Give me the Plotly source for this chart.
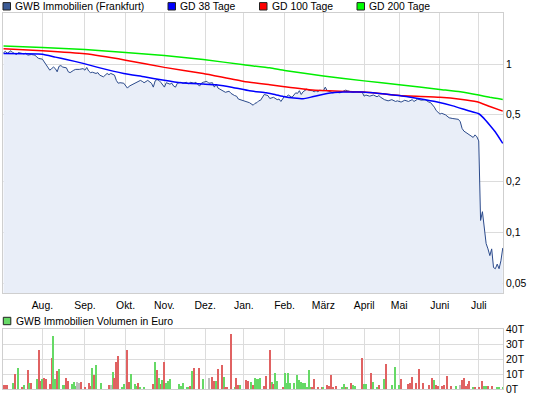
import plotly.graph_objects as go

# ---------------- data ----------------
price_dates = [
    "2011-07-01", "2011-07-04", "2011-07-05", "2011-07-06", "2011-07-07", "2011-07-08", "2011-07-12",
    "2011-07-13", "2011-07-14", "2011-07-18", "2011-07-19", "2011-07-20", "2011-07-22", "2011-07-26",
    "2011-07-27", "2011-07-28", "2011-08-01", "2011-08-02", "2011-08-03", "2011-08-05", "2011-08-08",
    "2011-08-09", "2011-08-10", "2011-08-11", "2011-08-12", "2011-08-15", "2011-08-16", "2011-08-18",
    "2011-08-19", "2011-08-22", "2011-08-24", "2011-08-25", "2011-08-29", "2011-08-31", "2011-09-01",
    "2011-09-02", "2011-09-05", "2011-09-06", "2011-09-07", "2011-09-09", "2011-09-12", "2011-09-13",
    "2011-09-15", "2011-09-16", "2011-09-19", "2011-09-20", "2011-09-21", "2011-09-23", "2011-09-26",
    "2011-09-27", "2011-09-28", "2011-09-30", "2011-10-03", "2011-10-04", "2011-10-05", "2011-10-07",
    "2011-10-10", "2011-10-11", "2011-10-13", "2011-10-14", "2011-10-17", "2011-10-19", "2011-10-20",
    "2011-10-21", "2011-10-24", "2011-10-25", "2011-10-26", "2011-10-27", "2011-10-28", "2011-10-31",
    "2011-11-01", "2011-11-02", "2011-11-04", "2011-11-07", "2011-11-08", "2011-11-09", "2011-11-10",
    "2011-11-14", "2011-11-15", "2011-11-17", "2011-11-18", "2011-11-21", "2011-11-23", "2011-11-24",
    "2011-11-28", "2011-11-29", "2011-11-30", "2011-12-02", "2011-12-05", "2011-12-07", "2011-12-08",
    "2011-12-09", "2011-12-12", "2011-12-13", "2011-12-15", "2011-12-16", "2011-12-20", "2011-12-21",
    "2011-12-23", "2011-12-27", "2011-12-28", "2011-12-30", "2012-01-02", "2012-01-04", "2012-01-05",
    "2012-01-09", "2012-01-10", "2012-01-11", "2012-01-12", "2012-01-13", "2012-01-16", "2012-01-17",
    "2012-01-18", "2012-01-19", "2012-01-20", "2012-01-24", "2012-01-26", "2012-01-27", "2012-01-30",
    "2012-02-01", "2012-02-02", "2012-02-03", "2012-02-07", "2012-02-08", "2012-02-09", "2012-02-10",
    "2012-02-13", "2012-02-14", "2012-02-15", "2012-02-17", "2012-02-20", "2012-02-22", "2012-02-23",
    "2012-02-24", "2012-02-27", "2012-02-28", "2012-03-01", "2012-03-02", "2012-03-05", "2012-03-07",
    "2012-03-08", "2012-03-12", "2012-03-14", "2012-03-15", "2012-03-19", "2012-03-20", "2012-03-22",
    "2012-03-23", "2012-03-27", "2012-03-29", "2012-03-30", "2012-04-02", "2012-04-03", "2012-04-05",
    "2012-04-11", "2012-04-13", "2012-04-16", "2012-04-17", "2012-04-19", "2012-04-23", "2012-04-25",
    "2012-04-27", "2012-04-30", "2012-05-03", "2012-05-07", "2012-05-09", "2012-05-11", "2012-05-14",
    "2012-05-16", "2012-05-18", "2012-05-22", "2012-05-24", "2012-05-25", "2012-05-29", "2012-05-30",
    "2012-06-01", "2012-06-04", "2012-06-06", "2012-06-08", "2012-06-12", "2012-06-15", "2012-06-18",
    "2012-06-19", "2012-06-20", "2012-06-22", "2012-06-26", "2012-06-27", "2012-06-28", "2012-06-29",
    "2012-07-02", "2012-07-03", "2012-07-04", "2012-07-05", "2012-07-06", "2012-07-09", "2012-07-10",
    "2012-07-11", "2012-07-12", "2012-07-13", "2012-07-16", "2012-07-17", "2012-07-18", "2012-07-19",
]
price_values = [
    1.17, 1.19, 1.16, 1.18, 1.20, 1.17, 1.14,
    1.17, 1.16, 1.15, 1.16, 1.13, 1.14, 1.13,
    1.10, 1.08, 1.07, 1.03, 0.99, 0.92, 0.94,
    0.96, 0.94, 0.90, 0.97, 0.98, 0.96, 0.95,
    0.90, 0.89, 0.92, 0.93, 0.93, 0.94, 0.92,
    0.955, 0.91, 0.89, 0.895, 0.88, 0.89, 0.86,
    0.84, 0.865, 0.88, 0.865, 0.88, 0.86, 0.80,
    0.77, 0.775, 0.77, 0.75, 0.72, 0.74, 0.76,
    0.77, 0.78, 0.80, 0.79, 0.775, 0.80, 0.78,
    0.77, 0.73, 0.795, 0.81, 0.80, 0.78, 0.75,
    0.73, 0.775, 0.76, 0.77, 0.74, 0.73, 0.77,
    0.78, 0.77, 0.78, 0.76, 0.78, 0.77, 0.78,
    0.74, 0.77, 0.78, 0.79, 0.77, 0.775, 0.73,
    0.76, 0.72, 0.71, 0.695, 0.68, 0.69, 0.67,
    0.65, 0.645, 0.62, 0.61, 0.60, 0.595, 0.59,
    0.57, 0.585, 0.59, 0.605, 0.61, 0.64, 0.66,
    0.655, 0.65, 0.625, 0.635, 0.615, 0.62, 0.60,
    0.645, 0.64, 0.655, 0.635, 0.655, 0.675, 0.67,
    0.695, 0.66, 0.685, 0.71, 0.70, 0.695, 0.685,
    0.695, 0.685, 0.70, 0.695, 0.73, 0.695, 0.685,
    0.675, 0.68, 0.675, 0.685, 0.70, 0.695, 0.685,
    0.68, 0.685, 0.68, 0.68, 0.645, 0.655, 0.645,
    0.655, 0.64, 0.65, 0.635, 0.615, 0.605, 0.615,
    0.60, 0.605, 0.595, 0.61, 0.60, 0.615, 0.60,
    0.62, 0.61, 0.615, 0.595, 0.59, 0.555, 0.53,
    0.505, 0.51, 0.50, 0.48, 0.475, 0.47, 0.455,
    0.415, 0.40, 0.385, 0.373, 0.367, 0.38, 0.37,
    0.35, 0.118, 0.133, 0.109, 0.086, 0.080, 0.073,
    0.080, 0.062, 0.061, 0.065, 0.061, 0.068, 0.081,
]

ma38_dates = [
    "2011-07-01", "2011-08-01", "2011-08-10", "2011-08-18", "2011-08-31", "2011-09-12", "2011-09-30",
    "2011-10-17", "2011-10-31", "2011-11-14", "2011-11-30", "2011-12-09", "2011-12-22", "2012-01-05",
    "2012-01-18", "2012-01-24", "2012-02-01", "2012-02-08", "2012-02-15", "2012-02-22", "2012-03-05",
    "2012-03-16", "2012-03-30", "2012-04-16", "2012-05-02", "2012-05-17", "2012-05-30", "2012-06-12",
    "2012-06-22", "2012-07-02", "2012-07-04", "2012-07-10", "2012-07-13", "2012-07-19",
]
ma38_values = [
    1.155, 1.145, 1.10, 1.066, 1.01, 0.956, 0.88,
    0.841, 0.804, 0.774, 0.761, 0.753, 0.727, 0.694,
    0.675, 0.663, 0.639, 0.628, 0.622, 0.639, 0.67,
    0.682, 0.682, 0.67, 0.651, 0.622, 0.597, 0.565,
    0.53, 0.507, 0.486, 0.434, 0.395, 0.338,
]

ma100_dates = [
    "2011-07-01", "2011-08-01", "2011-09-01", "2011-10-03", "2011-11-01", "2011-11-30", "2012-01-02",
    "2012-01-20", "2012-02-01", "2012-02-22", "2012-04-02", "2012-05-02", "2012-06-01", "2012-06-18",
    "2012-06-29", "2012-07-10", "2012-07-19",
]
ma100_values = [
    1.235, 1.20, 1.15, 1.055, 0.956, 0.88, 0.789,
    0.753, 0.733, 0.701, 0.682, 0.651, 0.636, 0.619,
    0.597, 0.56, 0.526,
]

ma200_dates = [
    "2011-07-01", "2011-08-01", "2011-09-01", "2011-10-03", "2011-11-01", "2011-11-30", "2012-01-02",
    "2012-01-20", "2012-02-01", "2012-03-01", "2012-04-02", "2012-05-02", "2012-06-01", "2012-06-18",
    "2012-07-02", "2012-07-10", "2012-07-19",
]
ma200_values = [
    1.28, 1.255, 1.22, 1.17, 1.125, 1.065, 0.99,
    0.95, 0.915, 0.85, 0.795, 0.755, 0.707, 0.685,
    0.655, 0.635, 0.617,
]

vol_dates = [
    "2011-07-01", "2011-07-04", "2011-07-05", "2011-07-08", "2011-07-11", "2011-07-13", "2011-07-15",
    "2011-07-18", "2011-07-20", "2011-07-21", "2011-07-22", "2011-07-27", "2011-07-28", "2011-07-29",
    "2011-08-01", "2011-08-02", "2011-08-03", "2011-08-05", "2011-08-08", "2011-08-09", "2011-08-10",
    "2011-08-11", "2011-08-12", "2011-08-16", "2011-08-17", "2011-08-18", "2011-08-19", "2011-08-23",
    "2011-08-24", "2011-08-25", "2011-08-26", "2011-08-29", "2011-08-30", "2011-09-01", "2011-09-05",
    "2011-09-06", "2011-09-07", "2011-09-08", "2011-09-09", "2011-09-14", "2011-09-20", "2011-09-21",
    "2011-09-22", "2011-09-23", "2011-09-26", "2011-09-27", "2011-09-29", "2011-09-30", "2011-10-04",
    "2011-10-05", "2011-10-06", "2011-10-10", "2011-10-11", "2011-10-12", "2011-10-13", "2011-10-17",
    "2011-10-24", "2011-10-25", "2011-10-26", "2011-10-27", "2011-10-28", "2011-10-31", "2011-11-01",
    "2011-11-02", "2011-11-03", "2011-11-04", "2011-11-11", "2011-11-14", "2011-11-15", "2011-11-17",
    "2011-11-18", "2011-11-21", "2011-11-22", "2011-11-23", "2011-11-28", "2011-11-30", "2011-12-05",
    "2011-12-07", "2011-12-08", "2011-12-09", "2011-12-12", "2011-12-14", "2011-12-15", "2011-12-16",
    "2011-12-19", "2011-12-21", "2011-12-23", "2011-12-27", "2011-12-28", "2011-12-29", "2012-01-03",
    "2012-01-04", "2012-01-06", "2012-01-09", "2012-01-10", "2012-01-11", "2012-01-12", "2012-01-13",
    "2012-01-17", "2012-01-18", "2012-01-20", "2012-01-23", "2012-01-24", "2012-01-25", "2012-01-26",
    "2012-01-31", "2012-02-01", "2012-02-02", "2012-02-03", "2012-02-06", "2012-02-08", "2012-02-10",
    "2012-02-13", "2012-02-14", "2012-02-15", "2012-02-16", "2012-02-17", "2012-02-20", "2012-02-21",
    "2012-02-22", "2012-02-23", "2012-02-27", "2012-02-29", "2012-03-01", "2012-03-05", "2012-03-06",
    "2012-03-07", "2012-03-08", "2012-03-12", "2012-03-15", "2012-03-16", "2012-03-19", "2012-03-20",
    "2012-03-22", "2012-03-23", "2012-03-26", "2012-03-30", "2012-04-02", "2012-04-03", "2012-04-10",
    "2012-04-11", "2012-04-13", "2012-04-16", "2012-04-19", "2012-04-20", "2012-04-25", "2012-04-27",
    "2012-05-02", "2012-05-03", "2012-05-09", "2012-05-10", "2012-05-11", "2012-05-15", "2012-05-17",
    "2012-05-21", "2012-05-24", "2012-05-28", "2012-05-29", "2012-05-30", "2012-05-31", "2012-06-04",
    "2012-06-05", "2012-06-07", "2012-06-11", "2012-06-14", "2012-06-18", "2012-06-19", "2012-06-20",
    "2012-06-21", "2012-06-22", "2012-06-25", "2012-06-27", "2012-06-28", "2012-07-02", "2012-07-04",
    "2012-07-05", "2012-07-06", "2012-07-09", "2012-07-11", "2012-07-16", "2012-07-17", "2012-07-19",
]
vol_values_t = [
    2.7, 2.7, 2.7, 3.6, 9.6, 13.6, 0.7,
    2.2, 12.2, 4.0, 3.6, 6.2, 26.2, 4.9,
    6.7, 7.1, 6.7, 2.9, 20.9, 35.6, 6.4,
    11.6, 12.9, 2.2, 2.2, 6.9, 5.3, 2.9,
    4.2, 1.6, 4.2, 3.8, 4.2, 0.9, 3.6,
    1.6, 14.2, 8.9, 16.2, 3.6, 2.2, 2.2,
    10.9, 6.9, 18.2, 21.6, 0.9, 2.9, 25.6,
    4.2, 9.6, 2.9, 1.6, 3.6, 0.9, 0.7,
    2.9, 18.2, 12.2, 6.9, 2.9, 5.6, 17.6,
    3.6, 4.9, 6.2, 2.9, 1.6, 3.6, 0.7,
    0.7, 2.0, 11.6, 14.2, 13.6, 6.2, 6.9,
    7.6, 4.9, 4.9, 12.9, 15.6, 7.6, 0.9,
    1.3, 36.9, 1.3, 6.9, 2.2, 2.7, 5.6,
    4.9, 4.2, 2.2, 7.3, 6.7, 6.7, 7.3,
    1.6, 8.2, 26.2, 4.5, 2.9, 10.8, 4.9,
    1.3, 10.3, 3.6, 10.8, 4.0, 3.6, 9.4,
    5.8, 4.5, 4.0, 4.0, 1.1, 12.4, 0.9,
    0.9, 6.3, 1.3, 1.3, 1.3, 2.7, 1.8,
    9.0, 1.3, 1.8, 1.3, 3.1, 0.9, 1.3,
    3.6, 2.2, 1.8, 20.7, 2.9, 2.9, 10.3,
    4.5, 0.9, 2.2, 6.3, 16.6, 2.2, 14.4,
    2.2, 6.3, 2.9, 4.0, 7.6, 4.0, 13.0,
    3.6, 2.7, 7.1, 5.6, 2.7, 2.0, 2.0,
    2.7, 8.2, 2.0, 2.0, 2.7, 6.0, 7.3,
    1.6, 3.3, 4.9, 0.7, 1.1, 1.1, 4.9,
    2.0, 2.0, 2.0, 2.0, 0.9, 1.3, 0.9,
]
vol_dir = [
    "d", "d", "d", "u", "d", "u", "d",
    "u", "d", "u", "d", "u", "d", "d",
    "u", "d", "d", "d", "d", "u", "u",
    "d", "u", "u", "u", "d", "d", "u",
    "u", "u", "f", "f", "d", "d", "d",
    "d", "u", "d", "u", "u", "d", "f",
    "u", "d", "d", "d", "u", "u", "d",
    "d", "u", "u", "u", "d", "u", "u",
    "d", "u", "d", "u", "d", "u", "d",
    "u", "u", "u", "u", "u", "u", "u",
    "u", "d", "u", "d", "d", "u", "f",
    "d", "d", "u", "d", "d", "u", "d",
    "d", "d", "u", "d", "d", "u", "d",
    "d", "u", "d", "u", "u", "u", "u",
    "d", "d", "d", "u", "d", "u", "u",
    "d", "u", "u", "u", "u", "u", "u",
    "u", "u", "u", "u", "u", "u", "u",
    "d", "d", "d", "d", "u", "d", "d",
    "d", "d", "d", "u", "u", "d", "u",
    "d", "u", "u", "d", "u", "u", "d",
    "u", "u", "d", "u", "d", "u", "u",
    "u", "d", "d", "d", "d", "d", "d",
    "d", "d", "d", "u", "d", "d", "d",
    "d", "d", "d", "u", "f", "d", "d",
    "d", "d", "d", "u", "d", "d", "d",
    "u", "u", "d", "d", "u", "u", "u",
]

month_ticks = ["2011-08-01", "2011-09-01", "2011-10-03", "2011-11-01", "2011-12-01", "2012-01-02",
               "2012-02-01", "2012-03-01", "2012-04-02", "2012-05-02", "2012-06-01", "2012-07-02"]
month_labels = ["Aug.", "Sep.", "Okt.", "Nov.", "Dez.", "Jan.", "Feb.", "März", "April", "Mai", "Juni", "Juli"]

price_ticks = [0.05, 0.1, 0.2, 0.5, 1]
price_tick_labels = ["0,05", "0,1", "0,2", "0,5", "1"]
vol_ticks = [0, 10000, 20000, 30000, 40000]
vol_tick_labels = ["0T", "10T", "20T", "30T", "40T"]

holidays = ["2011-12-26", "2012-04-06", "2012-04-09", "2012-05-01"]

# ---------------- styling ----------------
W, H = 545, 398
ML, MR, MT, MB = 3, 42, 13, 9
PW, PH = W - ML - MR, H - MT - MB
FONT = "Liberation Sans, Arial, sans-serif"
FS = 10.4
GRID = "#dcdcdc"
FRAME = "#cfcfcf"
C_PRICE = "#2b4a8b"
C_FILL = "#e9eef8"
C_MA38 = "#0000ff"
C_MA100 = "#ff0000"
C_MA200 = "#00ee00"
VOL_COLORS = {"u": "#66d966", "d": "#e06262", "f": "#bdbdbd"}


def px_x(x):
    return (x - ML) / PW


def px_y(y):
    return (H - MB - y) / PH


def noon(ds):
    return [d + " 12:00" for d in ds]


fig = go.Figure()

fig.add_trace(go.Scatter(x=noon(price_dates), y=price_values, mode="lines",
                         line=dict(color=C_PRICE, width=1), fill="tozeroy", fillcolor=C_FILL,
                         name="GWB Immobilien (Frankfurt)", xaxis="x", yaxis="y"))
fig.add_trace(go.Scatter(x=noon(ma200_dates), y=ma200_values, mode="lines",
                         line=dict(color=C_MA200, width=1.5, shape="spline", smoothing=0.4),
                         name="GD 200 Tage", xaxis="x", yaxis="y"))
fig.add_trace(go.Scatter(x=noon(ma100_dates), y=ma100_values, mode="lines",
                         line=dict(color=C_MA100, width=1.5, shape="spline", smoothing=0.4),
                         name="GD 100 Tage", xaxis="x", yaxis="y"))
fig.add_trace(go.Scatter(x=noon(ma38_dates), y=ma38_values, mode="lines",
                         line=dict(color=C_MA38, width=1.5, shape="spline", smoothing=0.4),
                         name="GD 38 Tage", xaxis="x", yaxis="y"))
fig.add_trace(go.Bar(x=noon(vol_dates), y=[v * 1000 for v in vol_values_t],
                     marker=dict(color=[VOL_COLORS[c] for c in vol_dir], line=dict(width=0)),
                     width=0.62 * 86400000, name="GWB Immobilien Volumen in Euro",
                     xaxis="x2", yaxis="y2"))

xrange_ = ["2011-07-01 04:48", "2012-07-19 15:00"]
rbreaks = [dict(bounds=["sat", "mon"]), dict(values=holidays, dvalue=86400000)]

common_x = dict(type="date", range=xrange_, rangebreaks=rbreaks, tickvals=noon(month_ticks),
                ticktext=month_labels, showgrid=True, gridcolor=GRID, gridwidth=1,
                showline=True, linecolor=FRAME, linewidth=1, mirror=True, ticks="",
                zeroline=False, fixedrange=True)

main_bottom = px_y(293.3)
vol_top = px_y(329.3)

fig.update_layout(
    width=W, height=H, margin=dict(l=ML, r=MR, t=MT, b=MB, pad=0),
    paper_bgcolor="white", plot_bgcolor="white", showlegend=False,
    font=dict(family=FONT, size=FS, color="#000000"),
    bargap=0,
    xaxis=dict(common_x, domain=[0, 1], anchor="y", showticklabels=True, ticklabelstandoff=2,
               tickfont=dict(family=FONT, size=FS, color="#000000")),
    yaxis=dict(type="log", domain=[main_bottom, 1], anchor="x", side="right",
               range=[-1.3605, 0.3032], tickvals=price_ticks, ticktext=price_tick_labels,
               showgrid=True, gridcolor=GRID, showline=True, linecolor=FRAME, mirror=True,
               ticks="", zeroline=False, tickfont=dict(family=FONT, size=FS, color="#000000")),
    xaxis2=dict(common_x, domain=[0, 1], anchor="y2", showticklabels=False, matches="x"),
    yaxis2=dict(domain=[0, vol_top], anchor="x2", side="right", range=[0, 40000],
                tickvals=vol_ticks, ticktext=vol_tick_labels, showgrid=True, gridcolor=GRID,
                showline=True, linecolor=FRAME, mirror=True, ticks="", zeroline=False,
                tickfont=dict(family=FONT, size=FS, color="#000000")),
)

# legend squares + texts
legend_items = [
    (3.0, 15.0, 6.3, "#3b5b96", "GWB Immobilien (Frankfurt)"),
    (168.0, 180.0, 6.3, C_MA38, "GD 38 Tage"),
    (259.5, 271.5, 6.3, C_MA100, "GD 100 Tage"),
    (357.0, 368.5, 6.3, "#00ff00", "GD 200 Tage"),
    (3.3, 15.5, 321.0, "#66d966", "GWB Immobilien Volumen in Euro"),
]
shapes = []
annotations = []
for sx, tx, cy, col, label in legend_items:
    shapes.append(dict(type="rect", xref="paper", yref="paper",
                       x0=px_x(sx), x1=px_x(sx + 7.5), y0=px_y(cy + 3.7), y1=px_y(cy - 3.7),
                       fillcolor=col, line=dict(color="#222222", width=1), layer="above"))
    annotations.append(dict(xref="paper", yref="paper", x=px_x(tx), y=px_y(cy), text=label,
                            showarrow=False, xanchor="left", yanchor="middle",
                            font=dict(family=FONT, size=FS, color="#000000"),
                            borderpad=0, borderwidth=0))
fig.update_layout(shapes=shapes, annotations=annotations)

fig.write_html("out.html", config={"displayModeBar": False},
               post_script="document.body.style.margin='0px';document.body.style.padding='0px';")
